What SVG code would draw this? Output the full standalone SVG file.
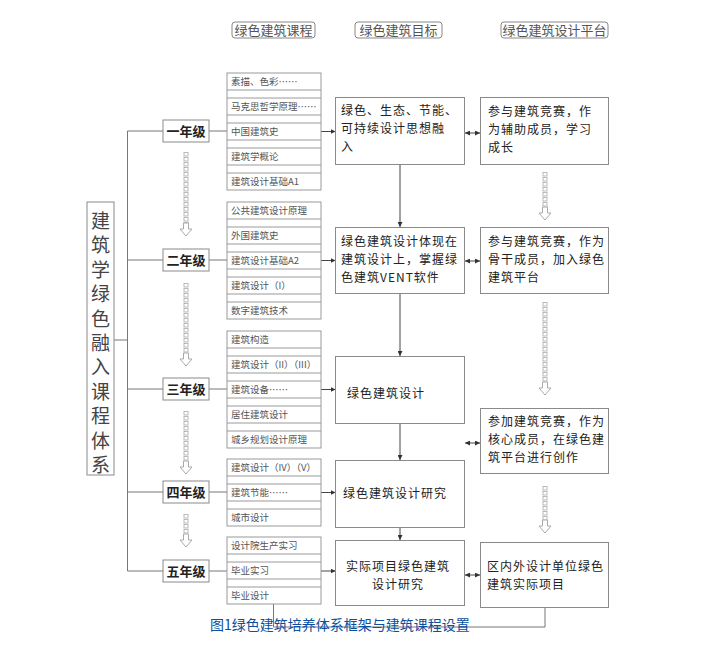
<svg xmlns="http://www.w3.org/2000/svg" width="706" height="647" viewBox="0 0 706 647">
<defs>
<style>
.hd{fill:#fff;stroke:#888;stroke-width:1}
.ht{font-family:"Noto Sans CJK SC","Noto Sans",sans-serif;font-size:13px;fill:#555}
.bx{fill:#fff;stroke:#8a8a8a;stroke-width:1}
.cl{fill:#fff;stroke:#9a9a9a;stroke-width:1}
.ct{font-family:"Noto Sans CJK SC","Noto Sans",sans-serif;font-size:9.5px;fill:#555}
.yt{font-family:"Noto Sans CJK SC","Noto Sans",sans-serif;font-size:13px;font-weight:bold;fill:#222}
.mt{font-family:"Noto Sans CJK SC","Noto Sans",sans-serif;font-size:12px;letter-spacing:1px;fill:#222}
.bt{font-family:"Noto Sans CJK SC","Noto Sans",sans-serif;font-size:19px;fill:#444}
.ln{fill:none;stroke:#777;stroke-width:1}
.ar{fill:none;stroke:#444;stroke-width:1}
.oh{fill:#fff;stroke:#aaa;stroke-width:1}
.cap{font-family:"Noto Sans CJK SC","Noto Sans",sans-serif;font-size:14px;fill:#0b4f9e}
</style>
<marker id="ah" viewBox="0 0 6 6" refX="6" refY="3" markerWidth="5" markerHeight="5" markerUnits="userSpaceOnUse" orient="auto-start-reverse">
<path d="M0,0 L6,3 L0,6 Z" fill="#333"/>
</marker>
<pattern id="dots" patternUnits="userSpaceOnUse" width="5" height="5">
<rect x="0.5" y="0.5" width="4" height="3.5" fill="#fff" stroke="#aaa" stroke-width="0.8"/>
</pattern>
</defs>
<rect width="706" height="647" fill="#fff"/>

<!-- headers -->
<g id="header-course"><rect class="hd" x="232" y="22" width="83" height="16" rx="3"/><text class="ht" x="273.5" y="35" text-anchor="middle">绿色建筑课程</text></g>
<g id="header-goal"><rect class="hd" x="355" y="22" width="87" height="16" rx="3"/><text class="ht" x="398.5" y="35" text-anchor="middle">绿色建筑目标</text></g>
<g id="header-platform"><rect class="hd" x="501" y="22" width="107" height="16" rx="3"/><text class="ht" x="554.5" y="35" text-anchor="middle">绿色建筑设计平台</text></g>

<!-- connectors -->
<g id="connectors">
<path class="ln" d="M114,340 H127.5 M127.5,131 V571 M127.5,131 H163 M127.5,260 H163 M127.5,389 H163 M127.5,492 H163 M127.5,571 H163"/>
<path class="ln" d="M209,131 H227 M209,260 H227 M209,389 H227 M209,492 H227 M209,571 H227"/>
<line class="ar" x1="321" y1="131.5" x2="335.5" y2="131.5" marker-end="url(#ah)"/>
<line class="ar" x1="321" y1="260.5" x2="335.5" y2="260.5" marker-end="url(#ah)"/>
<line class="ar" x1="321" y1="389.5" x2="335.5" y2="389.5" marker-end="url(#ah)"/>
<line class="ar" x1="321" y1="492.5" x2="335.5" y2="492.5" marker-end="url(#ah)"/>
<line class="ar" x1="321" y1="571" x2="335.5" y2="571" marker-end="url(#ah)"/>
<line class="ar" x1="400" y1="164" x2="400" y2="227" marker-end="url(#ah)"/>
<line class="ar" x1="400" y1="293" x2="400" y2="356" marker-end="url(#ah)"/>
<line class="ar" x1="400" y1="423" x2="400" y2="460" marker-end="url(#ah)"/>
<line class="ar" x1="400" y1="527" x2="400" y2="540" marker-end="url(#ah)"/>
<line class="ar" x1="465" y1="133" x2="480" y2="133" marker-start="url(#ah)" marker-end="url(#ah)"/>
<line class="ar" x1="465" y1="261" x2="480" y2="261" marker-start="url(#ah)" marker-end="url(#ah)"/>
<line class="ar" x1="465" y1="443" x2="480" y2="443" marker-start="url(#ah)" marker-end="url(#ah)"/>
<line class="ar" x1="465" y1="575" x2="480" y2="575" marker-start="url(#ah)" marker-end="url(#ah)"/>
<path class="ln" d="M545,607 V627 H273.5 V604"/>
<!-- dotted open arrows, year column -->
<g transform="translate(183.5,152)"><rect width="5" height="71" fill="url(#dots)"/></g>
<path class="oh" d="M183.5,223 H188.5 V229 H192 L186,236 L180,229 H183.5 Z"/>
<g transform="translate(183.5,283)"><rect width="5" height="70" fill="url(#dots)"/></g>
<path class="oh" d="M183.5,353 H188.5 V359 H192 L186,366 L180,359 H183.5 Z"/>
<g transform="translate(183.5,411)"><rect width="5" height="50" fill="url(#dots)"/></g>
<path class="oh" d="M183.5,461 H188.5 V467 H192 L186,474 L180,467 H183.5 Z"/>
<g transform="translate(183.5,514)"><rect width="5" height="20" fill="url(#dots)"/></g>
<path class="oh" d="M183.5,534 H188.5 V540 H192 L186,547 L180,540 H183.5 Z"/>
<!-- dotted open arrows, platform column -->
<g transform="translate(542.5,172)"><rect width="5" height="35" fill="url(#dots)"/></g>
<path class="oh" d="M542.5,207 H547.5 V213 H551 L545,220 L539,213 H542.5 Z"/>
<g transform="translate(542.5,302)"><rect width="5" height="80" fill="url(#dots)"/></g>
<path class="oh" d="M542.5,382 H547.5 V388 H551 L545,395 L539,388 H542.5 Z"/>
<g transform="translate(542.5,486)"><rect width="5" height="34" fill="url(#dots)"/></g>
<path class="oh" d="M542.5,520 H547.5 V526 H551 L545,533 L539,526 H542.5 Z"/>
</g>

<!-- main left box -->
<g id="system">
<rect class="bx" x="87" y="202" width="27" height="273"/>
<text class="bt" text-anchor="middle">
<tspan x="100.5" y="228">建</tspan><tspan x="100.5" y="252.4">筑</tspan><tspan x="100.5" y="276.8">学</tspan><tspan x="100.5" y="301.2">绿</tspan><tspan x="100.5" y="325.6">色</tspan><tspan x="100.5" y="350">融</tspan><tspan x="100.5" y="374.4">入</tspan><tspan x="100.5" y="398.8">课</tspan><tspan x="100.5" y="423.2">程</tspan><tspan x="100.5" y="447.6">体</tspan><tspan x="100.5" y="472">系</tspan>
</text>
</g>

<!-- year boxes -->
<g id="year1"><rect class="bx" x="163" y="120" width="46" height="22"/><text class="yt" x="186" y="135.5" text-anchor="middle">一年级</text></g>
<g id="year2"><rect class="bx" x="163" y="249" width="46" height="22"/><text class="yt" x="186" y="264.5" text-anchor="middle">二年级</text></g>
<g id="year3"><rect class="bx" x="163" y="378" width="46" height="22"/><text class="yt" x="186" y="393.5" text-anchor="middle">三年级</text></g>
<g id="year4"><rect class="bx" x="163" y="481" width="46" height="22"/><text class="yt" x="186" y="496.5" text-anchor="middle">四年级</text></g>
<g id="year5"><rect class="bx" x="163" y="560" width="46" height="22"/><text class="yt" x="186" y="575.5" text-anchor="middle">五年级</text></g>

<!-- course lists -->
<g id="courses1">
<rect class="cl" x="227" y="73" width="94" height="117"/>
<path class="cl" d="M227,90 H321 M227,98 H321 M227,115 H321 M227,123 H321 M227,140 H321 M227,148 H321 M227,165 H321 M227,173 H321"/>
<text class="ct" x="231" y="85">素描、色彩……</text>
<text class="ct" x="231" y="110">马克思哲学原理……</text>
<text class="ct" x="231" y="135">中国建筑史</text>
<text class="ct" x="231" y="160">建筑学概论</text>
<text class="ct" x="231" y="185">建筑设计基础A1</text>
</g>
<g id="courses2">
<rect class="cl" x="227" y="202" width="94" height="117"/>
<path class="cl" d="M227,219 H321 M227,227 H321 M227,244 H321 M227,252 H321 M227,269 H321 M227,277 H321 M227,294 H321 M227,302 H321"/>
<text class="ct" x="231" y="214">公共建筑设计原理</text>
<text class="ct" x="231" y="239">外国建筑史</text>
<text class="ct" x="231" y="264">建筑设计基础A2</text>
<text class="ct" x="231" y="289">建筑设计（I）</text>
<text class="ct" x="231" y="314">数字建筑技术</text>
</g>
<g id="courses3">
<rect class="cl" x="227" y="331" width="94" height="117"/>
<path class="cl" d="M227,348 H321 M227,356 H321 M227,373 H321 M227,381 H321 M227,398 H321 M227,406 H321 M227,423 H321 M227,431 H321"/>
<text class="ct" x="231" y="343">建筑构造</text>
<text class="ct" x="231" y="368">建筑设计（II）（III）</text>
<text class="ct" x="231" y="393">建筑设备……</text>
<text class="ct" x="231" y="418">居住建筑设计</text>
<text class="ct" x="231" y="443">城乡规划设计原理</text>
</g>
<g id="courses4">
<rect class="cl" x="227" y="459" width="94" height="67"/>
<path class="cl" d="M227,476 H321 M227,484 H321 M227,501 H321 M227,509 H321"/>
<text class="ct" x="231" y="471">建筑设计（IV）（V）</text>
<text class="ct" x="231" y="496">建筑节能……</text>
<text class="ct" x="231" y="521">城市设计</text>
</g>
<g id="courses5">
<rect class="cl" x="227" y="537" width="94" height="67"/>
<path class="cl" d="M227,554 H321 M227,562 H321 M227,579 H321 M227,587 H321"/>
<text class="ct" x="231" y="549">设计院生产实习</text>
<text class="ct" x="231" y="574">毕业实习</text>
<text class="ct" x="231" y="599">毕业设计</text>
</g>

<!-- goal boxes -->
<g id="goal1"><rect class="bx" x="335.5" y="97.5" width="129" height="67"/>
<text class="mt"><tspan x="341" y="115">绿色、生态、节能、</tspan><tspan x="341" y="133">可持续设计思想融</tspan><tspan x="341" y="151">入</tspan></text></g>
<g id="goal2"><rect class="bx" x="335.5" y="227.5" width="129" height="66"/>
<text class="mt"><tspan x="341" y="246">绿色建筑设计体现在</tspan><tspan x="341" y="264">建筑设计上，掌握绿</tspan><tspan x="341" y="282">色建筑VENT软件</tspan></text></g>
<g id="goal3"><rect class="bx" x="335.5" y="356.5" width="129" height="67"/>
<text class="mt" x="347" y="398">绿色建筑设计</text></g>
<g id="goal4"><rect class="bx" x="335.5" y="460.5" width="129" height="67"/>
<text class="mt" x="343" y="498">绿色建筑设计研究</text></g>
<g id="goal5"><rect class="bx" x="335.5" y="540.5" width="129" height="65"/>
<text class="mt" text-anchor="middle"><tspan x="398" y="571">实际项目绿色建筑</tspan><tspan x="398" y="589">设计研究</tspan></text></g>

<!-- platform boxes -->
<g id="plat1"><rect class="bx" x="480.5" y="97.5" width="128" height="67"/>
<text class="mt"><tspan x="488" y="116">参与建筑竞赛，作</tspan><tspan x="488" y="134">为辅助成员，学习</tspan><tspan x="488" y="152">成长</tspan></text></g>
<g id="plat2"><rect class="bx" x="480.5" y="227.5" width="128" height="66"/>
<text class="mt"><tspan x="488" y="246">参与建筑竞赛，作为</tspan><tspan x="488" y="264">骨干成员，加入绿色</tspan><tspan x="488" y="282">建筑平台</tspan></text></g>
<g id="plat3"><rect class="bx" x="480.5" y="408.5" width="128" height="65"/>
<text class="mt"><tspan x="488" y="426">参加建筑竞赛，作为</tspan><tspan x="488" y="444">核心成员，在绿色建</tspan><tspan x="488" y="462">筑平台进行创作</tspan></text></g>
<g id="plat4"><rect class="bx" x="480.5" y="542.5" width="128" height="65"/>
<text class="mt"><tspan x="487" y="571">区内外设计单位绿色</tspan><tspan x="487" y="589">建筑实际项目</tspan></text></g>

<text class="cap" x="210" y="630">图1绿色建筑培养体系框架与建筑课程设置</text>
</svg>
